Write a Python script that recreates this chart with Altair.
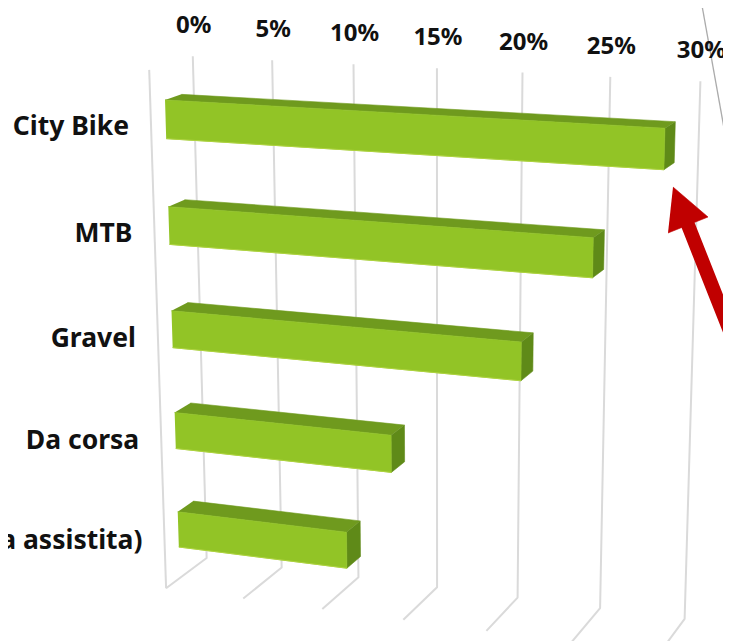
import altair as alt
import numpy as np
import pandas as pd

categories = ["City Bike", "MTB", "Gravel", "Da corsa", "E-bike (pedalata assistita)"]
shares = [29.1, 25.3, 21.3, 13.6, 10.8]
ticks = [0, 5, 10, 15, 20, 25, 30]
tick_labels = ["0%", "5%", "10%", "15%", "20%", "25%", "30%"]

W, H = 715, 633
HALF_BAR = 0.036
D_FRONT, D_BACK = 0.67, 0.29

# Perspective calibration: (value, height, depth) -> page pixel
wall_top = [(193, 56), (273, 60), (354, 64), (437, 68), (522, 72), (611, 77), (701, 81)]
wall_bottom = [(207, 557), (283, 567), (359, 577), (437, 587), (517, 597), (600, 608), (685, 619)]
floor_front = [(167, 587), (243, 599), (323, 609), (403, 620), (487, 632)]
bar_corners = [
    [(166, 101), (166, 138), (664, 128), (664, 169), (182, 95), (674, 123)],
    [(168, 207), (168, 244), (593, 238), (593, 277), (183, 200), (605, 231)],
    [(172, 311), (172, 348), (521, 341), (521, 380), (186, 303), (533, 333)],
    [(175, 413), (175, 448), (391, 435), (391, 472), (190, 403), (404, 426)],
    [(178, 512), (178, 547), (347, 533), (347, 567), (193, 502), (360, 523)],
]

rows, targets = [], []
def add(p3, p2):
    rows.append(p3)
    targets.append(p2)
for v, t, b in zip(ticks, wall_top, wall_bottom):
    add((v, 1, 0), t)
    add((v, 0, 0), b)
for v, f in zip(ticks, floor_front):
    add((v, 0, 1), f)
add((0, 1, 1), (151, 69))

def band(i):
    c = 1 - (i + 0.5) / len(categories)
    return c + HALF_BAR, c - HALF_BAR

for i, (val, c) in enumerate(zip(shares, bar_corners)):
    top, bot = band(i)
    add((0, top, D_FRONT), c[0])
    add((0, bot, D_FRONT), c[1])
    add((val, top, D_FRONT), c[2])
    add((val, bot, D_FRONT), c[3])
    add((0, top, D_BACK), c[4])
    add((val, top, D_BACK), c[5])

A = []
for (v, h, d), (x, y) in zip(rows, targets):
    P = [v / 30, h, d, 1]
    A.append(P + [0, 0, 0, 0] + [-x / 500 * q for q in P])
    A.append([0, 0, 0, 0] + P + [-y / 500 * q for q in P])
M = np.linalg.svd(np.array(A, float))[2][-1].reshape(3, 4)

def project(v, h, d):
    q = M @ np.array([v / 30, h, d, 1.0])
    return float(q[0] / q[2] * 500), float(q[1] / q[2] * 500)

# grid
grid = []
for v in ticks:
    for k, (h, d) in enumerate([(1, 0), (0, 0), (0, 1)]):
        x, y = project(v, h, d)
        grid.append(dict(px=x, py=y, key=f"g{v}", ord=k))
for k, (h, d) in enumerate([(1, 1), (0, 1)]):
    x, y = project(0, h, d)
    grid.append(dict(px=x, py=y, key="wall", ord=k))

front, topf, side, edge = [], [], [], []
for i, val in enumerate(shares):
    t, b = band(i)
    for k, (v, h) in enumerate([(0, t), (val, t), (val, b), (0, b)]):
        x, y = project(v, h, D_FRONT)
        front.append(dict(px=x, py=y, key=categories[i], ord=k))
    for k, (v, d) in enumerate([(0, D_FRONT), (val, D_FRONT), (val, D_BACK), (0, D_BACK)]):
        x, y = project(v, t, d)
        topf.append(dict(px=x, py=y, key=categories[i], ord=k))
    for k, (h, d) in enumerate([(t, D_FRONT), (b, D_FRONT), (b, D_BACK), (t, D_BACK)]):
        x, y = project(val, h, d)
        side.append(dict(px=x, py=y, key=categories[i], ord=k))
    for k, v in enumerate([0, val]):
        x, y = project(v, b, D_FRONT)
        edge.append(dict(px=x, py=y, key=categories[i], ord=k))

tick_df = pd.DataFrame([dict(zip(("px", "py"), project(v, 1, 0)), label=l) for v, l in zip(ticks, tick_labels)])
cat_df = pd.DataFrame([dict(zip(("px", "py"), project(0, 1 - (i + 0.5) / 5, 1)), label=c) for i, c in enumerate(categories)])

# Annotation shapes around the chart
arrow_head = [(673, 187), (708, 217), (668, 233)]
arrow_shaft = [(688, 225), (730.5, 332.5)]
deco_line = [(701, 0), (731, 167)]
deco_wedge = [(721, 0), (733, 0), (733, 28)]

def pts(seq, key="a"):
    return pd.DataFrame([dict(px=x, py=y, key=key, ord=k) for k, (x, y) in enumerate(seq)])

xs = alt.Scale(domain=[8, 8 + W], range=[0, W])
ys = alt.Scale(domain=[8, 8 + H], range=[0, H])
enc = dict(
    x=alt.X("px:Q", scale=xs, axis=None),
    y=alt.Y("py:Q", scale=ys, axis=None),
    detail="key:N",
    order=alt.Order("ord:Q"),
)

def poly(df, color):
    return alt.Chart(df).mark_line(fill=color, stroke=color, strokeWidth=0.6, strokeJoin="round", clip=True).encode(**enc)

def stroke(df, color, width, cap="butt"):
    return alt.Chart(df).mark_line(color=color, strokeWidth=width, strokeCap=cap, strokeJoin="round", clip=True).encode(**enc)

font = "Noto Sans"
txt = dict(x=alt.X("px:Q", scale=xs, axis=None), y=alt.Y("py:Q", scale=ys, axis=None), text="label:N")

chart = alt.layer(
    stroke(pts(deco_line), "#ababab", 1.3),
    poly(pts(deco_wedge), "#7fae6c"),
    stroke(pd.DataFrame(grid), "#dadada", 2),
    poly(pd.DataFrame(topf), "#6f9a1e"),
    poly(pd.DataFrame(side), "#5f8a18"),
    poly(pd.DataFrame(front), "#92c426"),
    stroke(pd.DataFrame(edge), "#aed33f", 1.0),
    stroke(pts(arrow_shaft), "#c00000", 14, "round"),
    poly(pts(arrow_head), "#c00000"),
    alt.Chart(tick_df).mark_text(font=font, fontWeight="bold", fontSize=24, dx=1, dy=-30, align="center", baseline="middle", color="#111111").encode(**txt),
    alt.Chart(cat_df).mark_text(font=font, fontWeight="bold", fontSize=26.5, dx=-22, dy=2, align="right", baseline="middle", color="#111111").encode(**txt),
).properties(width=W, height=H, padding=0, autosize=alt.AutoSizeParams(type="none"), background="white").configure_view(stroke=None)

chart.save("out.html", embed_options={"renderer": "svg", "actions": False})
